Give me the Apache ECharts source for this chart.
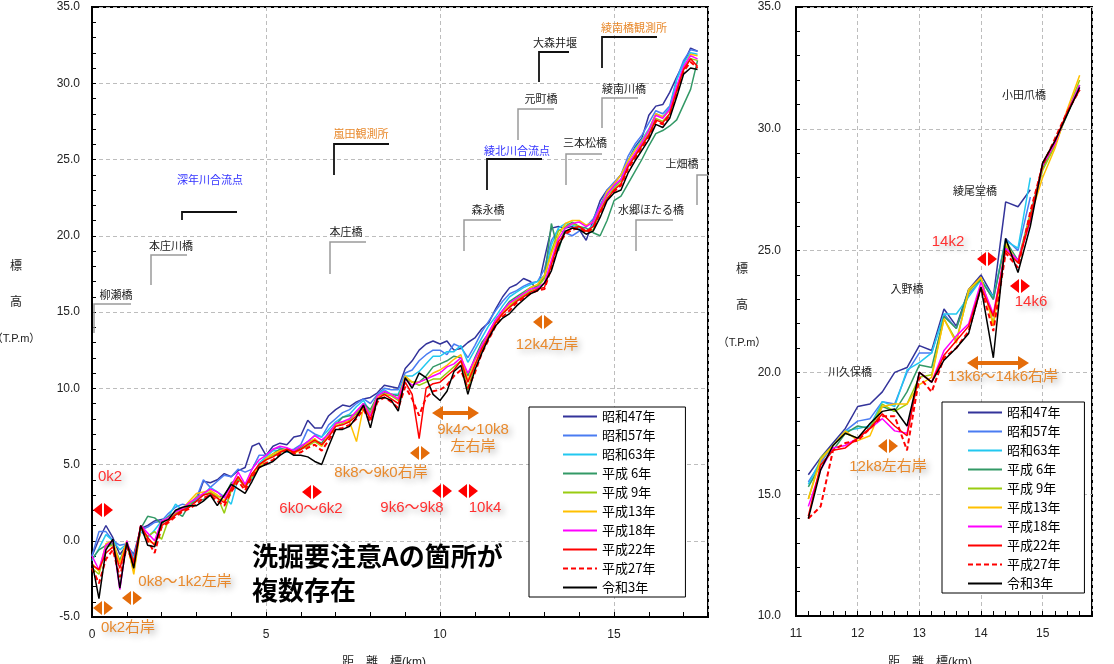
<!DOCTYPE html>
<html>
<head>
<meta charset="utf-8">
<script src="https://cdn.jsdelivr.net/npm/echarts@6/dist/echarts.min.js"></script>
<style>
  html, body { margin: 0; padding: 0; background: #fff; }
  #chart { width: 1114px; height: 664px; }
</style>
</head>
<body>
<div id="chart"></div>
<script>
// ---- survey years ----
const seriesNames = ['昭和47年', '昭和57年', '昭和63年', '平成 6年', '平成 9年',
                     '平成13年', '平成18年', '平成22年', '平成27年', '令和3年'];

// ---- main reach: distance markers (km) ----
const kmMain = [
  0, 0.2, 0.4, 0.6, 0.8, 1, 1.2, 1.4, 1.6, 1.8,
  2, 2.2, 2.4, 2.6, 2.8, 3, 3.2, 3.4, 3.6, 3.8,
  4, 4.2, 4.4, 4.6, 4.8, 5, 5.2, 5.4, 5.6, 5.8,
  6, 6.2, 6.4, 6.6, 6.8, 7, 7.2, 7.4, 7.6, 7.8,
  8, 8.2, 8.4, 8.6, 8.8, 9, 9.2, 9.4, 9.6, 9.8,
  10, 10.2, 10.4, 10.6, 10.8, 11, 11.2, 11.4, 11.6, 11.8,
  12, 12.2, 12.4, 12.6, 12.8, 13, 13.2, 13.4, 13.6, 13.8,
  14, 14.2, 14.4, 14.6, 14.8, 15, 15.2, 15.4, 15.6, 15.8,
  16, 16.2, 16.4, 16.6, 16.8, 17, 17.2, 17.4
];

// ---- main reach: lowest bed elevation (T.P.m) per survey ----
const mainS47 = [
  -1.0, 0.1, 1.0, 0.2, -0.9, -0.3, -0.9, 0.8, 1.0, 1.3,
  1.4, 1.5, 1.7, 2.1, 2.3, 2.6, 3.9, 3.8, 4.0, 4.4,
  4.2, 4.6, 4.8, 6.2, 6.4, 5.6, 6.2, 6.4, 6.3, 6.8,
  6.9, 7.9, 7.4, 7.4, 8.2, 8.6, 8.9, 8.8, 9.1, 9.3,
  9.4, 9.7, 10.2, 10.1, 10.0, 11.3, 11.8, 12.5, 12.9, 13.1,
  12.9, 13.1, 12.5, 12.6, 13.0, 13.3, 13.9, 14.3, 15.2, 16.0,
  16.6, 16.8, 17.2, 17.0, 16.4, 18.5, 20.5, 20.6, 20.5, 20.6,
  20.4, 19.7, 21.0, 22.3, 23.0, 23.4, 24.0, 24.9, 25.8, 26.4,
  27.9, 28.5, 28.6, 29.4, 30.4, 31.3, 32.3, 32.1
];
const mainS57 = [
  -1.0, 0.6, 0.6, 0.0, -0.3, -0.2, -1.0, 0.7, 0.9, 1.2,
  1.3, 1.8, 2.2, 2.4, 2.3, 2.8, 4.0, 3.5, 3.9, 4.3,
  4.2, 4.7, 4.5, 4.7, 5.6, 5.6, 6.0, 6.1, 5.9, 6.0,
  6.3, 7.3, 7.0, 6.8, 7.6, 8.0, 8.4, 8.6, 9.0, 9.3,
  9.0, 9.6, 10.0, 9.9, 9.9, 11.0, 11.2, 11.8, 12.2, 12.5,
  12.5, 12.2, 12.9, 12.7, 12.0, 12.8, 13.7, 14.4, 15.1, 15.7,
  16.2, 16.4, 16.7, 16.9, 17.0, 17.8, 19.7, 20.4, 20.2, 20.0,
  20.3, 20.6, 21.1, 22.0, 23.0, 23.5, 24.0, 25.2, 26.0, 26.6,
  27.4, 28.2, 28.0, 28.5, 30.3, 31.5, 32.2, 32.1
];
const mainS63 = [
  -1.3, -0.5, 0.4, 0.0, -0.6, -0.2, -1.2, 0.6, 0.2, 0.7,
  1.3, 1.6, 2.4, 2.0, 2.3, 2.7, 3.0, 3.5, 3.2, 2.9,
  2.4, 4.1, 3.6, 4.0, 5.1, 5.5, 5.9, 5.9, 5.8, 5.8,
  6.0, 6.5, 6.9, 6.8, 7.3, 7.8, 8.1, 8.3, 8.8, 9.2,
  8.4, 9.5, 9.9, 9.6, 9.6, 10.8, 10.8, 11.1, 11.6, 12.1,
  12.1, 12.4, 12.4, 12.8, 11.7, 12.5, 13.3, 14.1, 14.7, 15.4,
  16.0, 16.3, 16.6, 16.8, 17.0, 17.4, 19.4, 20.5, 20.8, 20.7,
  20.5, 20.3, 20.7, 21.8, 22.8, 23.2, 23.7, 24.9, 25.7, 26.3,
  27.0, 28.0, 27.8, 28.4, 30.2, 31.3, 32.0, 31.9
];
const mainH6 = [
  -1.2, -0.6, -0.3, -0.2, -1.3, -0.1, -1.4, 0.8, 1.6, 1.5,
  1.1, 1.6, 1.9, 1.6, 2.4, 2.6, 2.7, 3.0, 2.9, 2.9,
  3.8, 4.0, 3.7, 4.2, 4.9, 5.4, 5.7, 6.0, 6.0, 5.9,
  6.1, 6.5, 6.6, 6.4, 7.1, 7.6, 8.1, 8.2, 8.3, 9.0,
  8.6, 9.5, 9.7, 9.6, 9.5, 10.6, 10.4, 10.4, 10.8, 11.4,
  11.6, 11.8, 12.1, 12.0, 10.8, 12.0, 13.0, 13.6, 14.5, 15.1,
  15.7, 16.0, 16.3, 16.6, 16.7, 17.3, 20.8, 19.0, 20.6, 20.9,
  20.6, 20.5, 20.2, 20.0, 21.0, 22.3, 22.6, 23.4, 24.2, 25.0,
  25.9, 26.7, 26.9, 27.2, 27.6, 28.6, 29.6, 31.5
];
const mainH9 = [
  -1.8, -2.2, -0.4, -0.3, -1.5, -0.2, -2.0, 0.8, 0.3, 0.6,
  0.1, 1.4, 1.8, 2.1, 2.4, 2.9, 3.0, 3.2, 2.9, 1.8,
  3.3, 4.1, 3.5, 4.2, 4.8, 5.3, 5.6, 5.8, 5.9, 5.8,
  6.0, 6.2, 6.5, 6.2, 6.9, 7.5, 7.7, 7.9, 8.4, 8.9,
  8.4, 9.5, 9.6, 9.5, 9.2, 10.6, 10.4, 10.2, 10.4, 10.6,
  10.6, 11.0, 11.4, 11.8, 9.9, 11.5, 12.5, 13.4, 14.3, 14.9,
  15.4, 15.8, 16.1, 16.4, 16.6, 17.2, 19.0, 20.3, 20.6, 20.8,
  20.6, 20.3, 20.4, 21.6, 22.6, 23.1, 23.6, 24.6, 25.3, 26.0,
  26.7, 27.7, 27.5, 28.0, 29.5, 30.9, 31.6, 31.5
];
const mainH13 = [
  -1.5, -2.0, -0.2, 0.0, -1.5, 0.0, -2.2, 0.9, 0.0, -0.2,
  1.3, 1.5, 1.9, 2.1, 2.6, 3.1, 3.2, 3.3, 3.0, 2.6,
  3.5, 4.2, 3.6, 4.4, 4.8, 5.4, 5.7, 5.9, 6.0, 5.7,
  6.0, 6.4, 6.7, 6.2, 7.0, 7.6, 7.8, 7.8, 6.5, 8.8,
  8.2, 9.4, 9.6, 9.6, 9.3, 10.8, 10.4, 10.4, 10.6, 11.0,
  11.2, 11.5, 11.9, 12.2, 10.5, 11.8, 12.8, 13.6, 14.4, 15.0,
  15.5, 15.9, 16.2, 16.6, 16.8, 17.4, 18.8, 20.0, 20.8, 21.0,
  21.0, 20.7, 20.9, 21.8, 22.9, 23.4, 24.0, 24.9, 25.6, 26.2,
  26.9, 28.0, 27.8, 28.2, 29.7, 31.0, 31.9, 31.8
];
const mainH18 = [
  -1.0, -1.9, -0.3, 0.0, -3.2, 0.0, -1.5, 1.0, 0.5, 0.0,
  1.3, 1.5, 1.9, 2.1, 2.5, 2.8, 3.1, 3.4, 3.2, 2.8,
  3.6, 4.5, 3.7, 4.7, 5.3, 5.6, 6.0, 6.2, 6.1, 5.9,
  6.2, 6.5, 6.9, 6.6, 7.0, 7.7, 7.8, 8.0, 8.5, 9.0,
  8.2, 9.5, 9.8, 9.6, 9.3, 10.6, 10.2, 10.4, 10.6, 10.8,
  11.0, 11.4, 11.6, 12.0, 11.0, 11.9, 12.8, 13.7, 14.5, 15.1,
  15.6, 15.9, 16.2, 16.5, 16.6, 16.9, 18.4, 19.8, 20.5, 20.8,
  20.9, 20.6, 20.9, 21.9, 22.7, 23.3, 23.7, 24.7, 25.4, 26.1,
  26.9, 27.9, 27.7, 28.3, 29.8, 31.1, 31.8, 31.6
];
const mainH22 = [
  -1.6, -1.9, -0.8, -0.4, -1.8, -0.2, -1.4, 1.0, 0.2, -0.3,
  1.0, 1.3, 1.7, 2.0, 2.2, 2.6, 3.0, 3.1, 2.8, 2.5,
  3.4, 4.2, 3.5, 4.4, 5.0, 5.3, 5.5, 5.8, 6.0, 5.8,
  6.0, 6.3, 6.6, 6.3, 6.8, 7.5, 7.6, 7.8, 8.2, 8.8,
  8.0, 9.3, 9.6, 9.3, 9.0, 10.4, 9.6, 6.7, 10.0, 10.3,
  10.4, 10.8, 11.2, 11.8, 10.4, 11.5, 12.6, 13.4, 14.3, 14.9,
  15.3, 15.7, 16.0, 16.3, 16.5, 16.6, 18.1, 19.6, 20.2, 20.5,
  20.6, 20.3, 20.6, 21.6, 22.4, 23.0, 23.4, 24.5, 25.2, 25.9,
  26.6, 27.6, 27.4, 28.0, 29.5, 30.9, 31.6, 31.1
];
const mainH27 = [
  -1.8, -2.8, -1.2, -0.6, -2.4, -0.4, -1.6, 0.9, 0.0, -0.8,
  0.9, 1.2, 1.6, 1.9, 2.1, 2.4, 2.8, 3.0, 2.6, 2.3,
  3.2, 3.9, 3.3, 4.2, 4.8, 5.1, 5.3, 5.7, 5.9, 5.7,
  5.8, 6.1, 6.3, 5.9, 6.6, 7.3, 7.4, 7.6, 8.0, 8.6,
  7.8, 9.1, 9.4, 9.1, 8.7, 10.1, 9.3, 8.2, 9.4, 9.8,
  9.9, 10.2, 10.8, 11.2, 10.0, 11.0, 12.3, 13.2, 14.1, 14.7,
  15.1, 15.6, 15.9, 16.2, 16.4, 16.5, 17.9, 19.4, 20.1, 20.4,
  20.5, 20.2, 20.5, 21.5, 22.4, 22.9, 23.3, 24.4, 25.1, 25.8,
  26.5, 27.5, 27.3, 27.9, 29.3, 30.8, 31.4, 31.0
];
const mainR3 = [
  -1.4, -3.8, -0.6, 0.1, -3.1, -0.1, -1.8, 1.0, -0.3, -0.4,
  1.2, 1.4, 2.0, 2.2, 2.3, 2.3, 2.6, 3.0, 2.3, 3.0,
  3.7, 3.4, 3.1, 3.9, 4.8, 5.0, 5.2, 5.6, 5.9, 5.6,
  5.6, 5.5, 5.2, 5.0, 6.2, 7.3, 7.3, 7.5, 8.1, 8.9,
  7.4, 9.3, 9.4, 9.2, 8.5, 10.7, 10.0, 11.0, 10.7, 9.6,
  9.2, 9.8, 11.1, 11.5, 9.6, 11.2, 12.3, 13.3, 14.1, 14.6,
  14.9, 15.4, 15.8, 16.2, 16.4, 16.9, 17.7, 19.2, 20.3, 20.5,
  20.4, 20.1, 20.3, 21.2, 22.3, 22.8, 23.0, 24.1, 24.9, 25.6,
  26.3, 27.3, 27.1, 27.7, 29.1, 30.6, 31.0, 30.9
];

// ---- upper reach (detail panel): distance markers (km) ----
const kmUpper = [11.2, 11.4, 11.6, 11.8, 12, 12.2, 12.4, 12.6, 12.8, 13, 13.2, 13.4,
                 13.6, 13.8, 14, 14.2, 14.4, 14.6, 14.8, 15, 15.2, 15.4, 15.6];

// ---- upper reach: lowest bed elevation (T.P.m) per survey ----
const upperS47 = [15.8, 16.5, 17.1, 17.7, 18.6, 18.7, 19.2, 20.0, 20.2, 21.1, 20.9, 22.6,
                  21.9, 23.4, 24.0, 23.1, 27.0, 26.8, 27.5];
const upperS57 = [15.5, 16.3, 17.0, 17.6, 18.0, 18.1, 18.8, 18.7, 20.0, 20.8, 20.8, 22.4,
                  21.8, 23.2, 23.8, 23.0, 25.5, 25.0, 27.2];
const upperS63 = [15.4, 16.4, 17.0, 17.6, 17.7, 17.8, 18.8, 18.6, 20.1, 20.4, 20.8, 22.4,
                  22.4, 23.1, 23.8, 23.1, 25.4, 25.1, 28.0];
const upperH6  = [15.3, 16.2, 16.8, 17.5, 17.8, 17.7, 18.6, 18.4, 19.2, 20.3, 20.2, 22.3,
                  21.8, 23.4, 23.8, 23.0, 25.4, 24.6, 26.5, 28.4, 29.4, 30.6, 31.8];
const upperH9  = [14.8, 16.5, 17.0, 17.5, 17.3, 17.7, 18.7, 18.4, 18.7, 19.8, 19.9, 22.2,
                  21.3, 23.3, 23.9, 22.0, 25.2, 24.5, 26.4, 28.3, 29.3, 30.7, 32.0];
const upperH13 = [14.8, 16.4, 17.0, 17.6, 17.2, 17.4, 18.6, 18.7, 18.7, 19.5, 19.8, 22.2,
                  21.2, 23.4, 23.9, 21.9, 25.3, 24.5, 26.4, 28.0, 29.2, 30.8, 32.2];
const upperH18 = [14.5, 16.0, 16.9, 17.0, 17.3, 17.7, 18.1, 17.6, 17.5, 20.0, 19.6, 20.9,
                  21.5, 22.0, 23.7, 22.4, 25.1, 24.6, 26.2, 28.5, 29.4, 30.7, 31.8];
const upperH22 = [14.1, 16.2, 16.8, 16.9, 17.3, 17.7, 18.3, 17.8, 17.4, 20.0, 19.6, 20.7,
                  21.3, 21.9, 23.5, 22.3, 25.0, 24.5, 26.3, 28.6, 29.5, 30.7, 31.6];
const upperH27 = [14.0, 14.5, 16.8, 17.1, 17.2, 17.7, 18.2, 18.2, 16.8, 19.8, 19.2, 20.6,
                  21.0, 21.7, 23.5, 21.7, 24.9, 24.3, 26.6, 28.5, 29.6, 30.7, 31.6];
const upperR3  = [14.0, 16.0, 17.0, 17.5, 17.3, 17.9, 18.4, 18.5, 17.8, 20.0, 19.6, 20.5,
                  21.0, 21.6, 23.5, 20.6, 25.5, 24.1, 26.0, 28.6, 29.5, 30.6, 31.7];

// ---- axis ticks ----
const mainXTicks = [0, 5, 10, 15];
const upperXTicks = [11, 12, 13, 14, 15];

const mainProfiles  = [mainS47, mainS57, mainS63, mainH6, mainH9, mainH13, mainH18, mainH22, mainH27, mainR3];
const upperProfiles = [upperS47, upperS57, upperS63, upperH6, upperH9, upperH13, upperH18, upperH22, upperH27, upperR3];

const colors = ['#33339a', '#4a7cf2', '#22c8f0', '#339966', '#99cc11',
                '#ffc000', '#ff00ff', '#ff0000', '#ff0000', '#000000'];

const FONT = "'Liberation Sans', 'Noto Sans CJK JP', sans-serif";
const CJK = "'Noto Sans CJK JP', sans-serif";

function pairs(km, vals) { return vals.map((v, i) => [km[i], v]); }

function lineSeries(i, data, g) {
  return {
    name: seriesNames[i], type: 'line', xAxisIndex: g, yAxisIndex: g,
    data: data, symbol: 'none', showSymbol: false, animation: false,
    z: 2 + i,
    lineStyle: { color: colors[i], width: i === 8 ? 2 : 1.5, type: i === 8 ? [5, 3] : 'solid' },
    itemStyle: { color: colors[i] }
  };
}

const series = [];
mainProfiles.forEach((v, i) => series.push(lineSeries(i, pairs(kmMain, v), 0)));
upperProfiles.forEach((v, i) => series.push(lineSeries(i, pairs(kmUpper, v), 1)));

function xAxisCfg(g, min, max, ticks, minorSplit) {
  return {
    type: 'value', gridIndex: g, min: min, max: max, interval: ticks[1] - ticks[0],
    axisLine: { show: true, onZero: false, lineStyle: { color: '#000', width: 2 } },
    axisTick: { show: true, inside: true, length: 5, lineStyle: { color: '#000' } },
    minorTick: { show: true, splitNumber: minorSplit, length: 5, lineStyle: { color: '#000' } },
    axisLabel: {
      color: '#222', fontSize: 12, fontFamily: FONT, margin: 12, showMaxLabel: false,
      formatter: v => (ticks.indexOf(v) >= 0 ? String(v) : '')
    },
    splitLine: { show: true, lineStyle: { color: '#bdbdbd', type: [4, 3] } }
  };
}
function yAxisCfg(g, min, max, margin) {
  return {
    type: 'value', gridIndex: g, min: min, max: max, interval: 5,
    axisLine: { show: true, lineStyle: { color: '#000', width: 2 } },
    axisTick: { show: true, inside: true, length: 4, lineStyle: { color: '#000' } },
    minorTick: { show: true, splitNumber: 5, length: 4, lineStyle: { color: '#000' } },
    axisLabel: { color: '#222', fontSize: 12, fontFamily: FONT, margin: margin, formatter: v => v.toFixed(1) },
    splitLine: { show: true, lineStyle: { color: '#bdbdbd', type: [4, 3] } }
  };
}

// legend entries show the line sample only (no point symbol)
function legendCfg(left, top, padding) {
  return {
    data: seriesNames, orient: 'vertical', left: left, top: top,
    itemWidth: 34, itemHeight: 14, itemGap: 6, padding: padding,
    backgroundColor: '#fff', borderColor: '#000', borderWidth: 1,
    itemStyle: { opacity: 0 },
    textStyle: { fontSize: 13, color: '#000', fontFamily: CJK },
    selectedMode: false
  };
}

// ---- decorations: gauging stations, bridges, scour notes ----
const GRAY = '#9a9a9a', BLACK = '#111', BLUE = '#3333ff', ORANGE_T = '#e8892c', NAME = '#222';
const RED_T = '#ff3030', RED = '#ff0000', ORANGE = '#e46c0a';

// [label, cornerX, cornerY, barLength, stemLength, textX, textY, lineColor, textColor]
const landmarks = [
  ['柳瀬橋', 94, 304, 37, 29, 116, 296, GRAY, NAME],
  ['本庄川橋', 151, 255, 36, 30, 171, 247, GRAY, NAME],
  ['深年川合流点', 182, 212, 55, 8, 210, 181, BLACK, BLUE],
  ['本庄橋', 330, 242, 36, 32, 346, 233, GRAY, NAME],
  ['嵐田観測所', 334, 144, 55, 31, 361, 135, BLACK, ORANGE_T],
  ['綾北川合流点', 487, 159, 55, 31, 517, 152, BLACK, BLUE],
  ['森永橋', 464, 220, 37, 31, 488, 211, GRAY, NAME],
  ['元町橋', 518, 109, 36, 31, 541, 100, GRAY, NAME],
  ['大森井堰', 539, 52, 30, 30, 555, 44, BLACK, NAME],
  ['綾南橋観測所', 602, 37, 55, 31, 634, 29, BLACK, ORANGE_T],
  ['綾南川橋', 602, 98, 36, 30, 624, 90, GRAY, NAME],
  ['三本松橋', 566, 154, 36, 31, 585, 144, GRAY, NAME],
  ['上畑橋', 697, 175, 11, 30, 682, 165, GRAY, NAME],
  ['水郷ほたる橋', 636, 220, 37, 31, 651, 211, GRAY, NAME]
];
const upperBridges = [['小田爪橋', 1024, 96], ['綾尾堂橋', 975, 192], ['入野橋', 907, 290], ['川久保橋', 850, 373]];

// [text, x, y, color]
const scourNotes = [
  ['0k2', 110, 477, RED_T], ['0k2右岸', 128, 628, ORANGE_T], ['0k8～1k2左岸', 185, 582, ORANGE_T],
  ['6k0～6k2', 311, 509, RED_T], ['8k8～9k0右岸', 381, 473, ORANGE_T],
  ['9k4～10k8', 473, 430, ORANGE_T], ['左右岸', 473, 447, ORANGE_T],
  ['9k6～9k8', 412, 508, RED_T], ['10k4', 485, 508, RED_T], ['12k4左岸', 547, 345, ORANGE_T],
  ['14k2', 948, 242, RED_T], ['14k6', 1031, 302, RED_T],
  ['13k6～14k6右岸', 1003, 377, ORANGE_T], ['12k8左右岸', 888, 467, ORANGE_T]
];
const scourMarkers = [
  [103, 510, RED], [312, 492, RED], [442, 491, RED], [468, 491, RED], [987, 259, RED], [1020, 286, RED],
  [103, 608, ORANGE], [132, 598, ORANGE], [420, 453, ORANGE], [543, 322, ORANGE], [888, 446, ORANGE]
];
const scourRanges = [[432, 479, 413], [967, 1029, 363]];

const graphics = [];
function text(t, x, y, size, color) {
  graphics.push({
    type: 'text', x: x, y: y, z: 50,
    style: { text: t, fill: color, font: size + 'px ' + FONT, textAlign: 'center', textVerticalAlign: 'middle' }
  });
}
landmarks.forEach(([t, cx, cy, bar, stem, tx, ty, lc, tc]) => {
  graphics.push({ type: 'polyline', z: 40, shape: { points: [[cx, cy + stem], [cx, cy], [cx + bar, cy]] },
    style: { stroke: lc, lineWidth: lc === GRAY ? 1.5 : 1.8, fill: null } });
  text(t, tx, ty, 11, tc);
});
upperBridges.forEach(([t, x, y]) => text(t, x, y, 11, NAME));
scourNotes.forEach(([t, x, y, c]) => {
  graphics.push({
    type: 'text', x: x, y: y, z: 50,
    style: {
      text: t, fill: c, font: '15px ' + FONT, textAlign: 'center', textVerticalAlign: 'middle',
      textShadowColor: 'rgba(0,0,0,0.3)', textShadowBlur: 6, textShadowOffsetX: 3, textShadowOffsetY: 3,
      shadowColor: 'rgba(0,0,0,0.3)', shadowBlur: 6, shadowOffsetX: 3, shadowOffsetY: 3
    }
  });
});
scourMarkers.forEach(([x, y, c]) => {
  graphics.push({ type: 'polygon', z: 45, shape: { points: [[x - 1, y - 7], [x - 10, y], [x - 1, y + 7]] }, style: { fill: c } });
  graphics.push({ type: 'polygon', z: 45, shape: { points: [[x + 1, y - 7], [x + 10, y], [x + 1, y + 7]] }, style: { fill: c } });
});
scourRanges.forEach(([x1, x2, y]) => {
  graphics.push({ type: 'polygon', z: 45, shape: { points: [
    [x1, y], [x1 + 11, y - 7], [x1 + 11, y - 2], [x2 - 11, y - 2], [x2 - 11, y - 7],
    [x2, y], [x2 - 11, y + 7], [x2 - 11, y + 2], [x1 + 11, y + 2], [x1 + 11, y + 7]] },
    style: { fill: ORANGE } });
});

// headline
graphics.push({ type: 'text', x: 252, y: 556, z: 50,
  style: { text: '洗掘要注意Aの箇所が', fill: '#000', font: 'bold 26px ' + CJK, textAlign: 'left', textVerticalAlign: 'middle' } });
graphics.push({ type: 'text', x: 252, y: 590, z: 50,
  style: { text: '複数存在', fill: '#000', font: 'bold 26px ' + CJK, textAlign: 'left', textVerticalAlign: 'middle' } });

// axis titles
text('標', 16, 267, 12, '#222');
text('高', 16, 303, 12, '#222');
text('（T.P.m）', 16, 339, 11, '#222');
text('標', 742, 270, 12, '#222');
text('高', 742, 306, 12, '#222');
text('（T.P.m）', 742, 343, 11, '#222');
text('距　離　標(km)', 384, 663, 12, '#222');
text('距　離　標(km)', 930, 663, 12, '#222');

const chart = echarts.init(document.getElementById('chart'), null, { renderer: 'canvas' });
chart.setOption({
  animation: false,
  backgroundColor: '#fff',
  textStyle: { fontFamily: FONT },
  grid: [
    { left: 92, top: 7, width: 616, height: 610, show: true, borderColor: '#000', borderWidth: 2, backgroundColor: 'transparent' },
    { left: 796, top: 7, width: 296, height: 609, show: true, borderColor: '#000', borderWidth: 2, backgroundColor: 'transparent' }
  ],
  xAxis: [xAxisCfg(0, 0, 17.7, mainXTicks, 5), xAxisCfg(1, 11, 15.8, upperXTicks, 5)],
  yAxis: [yAxisCfg(0, -5, 35, 12), yAxisCfg(1, 10, 35, 15)],
  legend: [legendCfg(529, 407, [3, 30, 3, 33]), legendCfg(942, 402, [4, 24, 3, 25])],
  series: series,
  graphic: graphics
});
</script>
</body>
</html>
